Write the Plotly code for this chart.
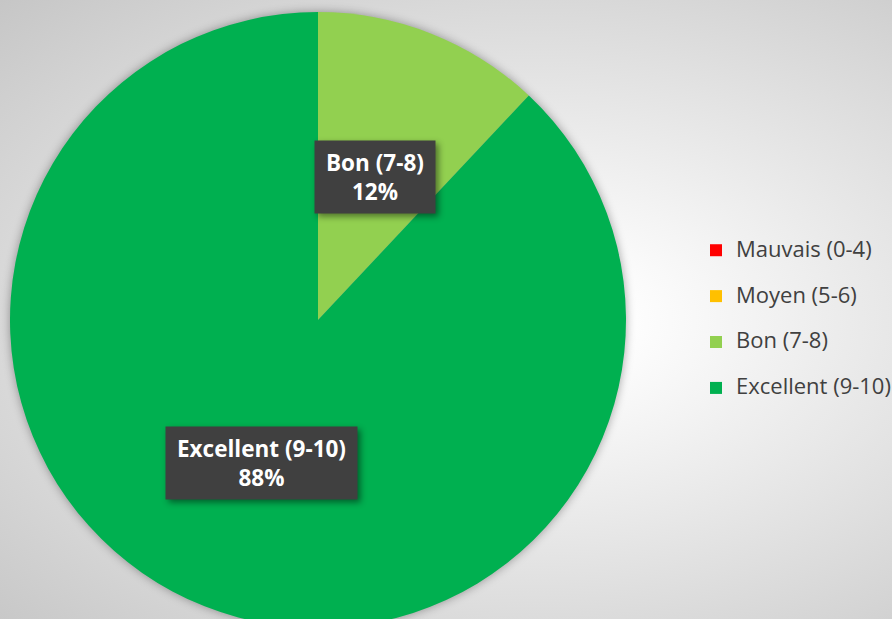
import math
import plotly.graph_objects as go

# ---- data ----
labels = ["Mauvais (0-4)", "Moyen (5-6)", "Bon (7-8)", "Excellent (9-10)"]
values = [0, 0, 12, 88]
colors = ["#FF0000", "#FFC000", "#92D050", "#00B050"]

W, H = 892, 640
cx, cy, R = 318, 320, 308  # pie centre / radius in px

legend_labels = [f"<span style='font-size:22px'>{l}</span><br> " for l in labels]

fig = go.Figure(go.Pie(
    labels=legend_labels,
    values=values,
    marker=dict(colors=colors, line=dict(width=0)),
    sort=False,
    direction="clockwise",
    rotation=0,
    textinfo="none",
    hoverinfo="percent",
    domain=dict(x=[(cx - R) / W, (cx + R) / W], y=[(H - cy - R) / H, (H - cy + R) / H]),
))

# data labels (boxes) at the middle of each non-empty slice
total = sum(values)
cum = 0.0
annotations = []
for lab, v in zip(labels, values):
    if v > 0:
        mid = (cum + v / 2) / total * 2 * math.pi
        px = cx + 0.5 * R * math.sin(mid)
        py = cy - 0.5 * R * math.cos(mid)
        pct = round(v / total * 100)
        annotations.append(dict(
            x=px / W, y=1 - py / H, xref="paper", yref="paper",
            text=f"<b>{lab}</b><br><b>{pct}%</b>",
            showarrow=False,
            font=dict(family="Open Sans", size=22.5, color="#FFFFFF"),
            bgcolor="#404040", borderpad=11, height=50, valign="middle",
            xanchor="center", yanchor="middle",
        ))
    cum += v

fig.update_layout(
    width=W, height=H,
    margin=dict(l=0, r=0, t=0, b=0, autoexpand=False),
    paper_bgcolor="rgba(0,0,0,0)",
    plot_bgcolor="rgba(0,0,0,0)",
    showlegend=True,
    legend=dict(
        x=696 / W, y=1 - 233 / H, xanchor="left", yanchor="top",
        font=dict(family="Open Sans", size=16.5, color="#404040"),
        valign="top", bgcolor="rgba(0,0,0,0)",
    ),
    annotations=annotations,
)

post = """
document.body.style.margin='0';
document.body.style.overflow='hidden';
var d=document.getElementById('{plot_id}');
d.style.background='radial-gradient(ellipse at 60% 50%, #ffffff 10%, #c6c6c6 100%)';
document.querySelectorAll('.pielayer').forEach(function(e){e.style.filter='drop-shadow(0 0 5px rgba(0,0,0,0.35))';});
document.querySelectorAll('.annotation rect.bg').forEach(function(e){e.style.filter='drop-shadow(3px 3px 3px rgba(0,0,0,0.45))';});
"""
fig.write_html("out.html", post_script=post, config={"displayModeBar": False})
